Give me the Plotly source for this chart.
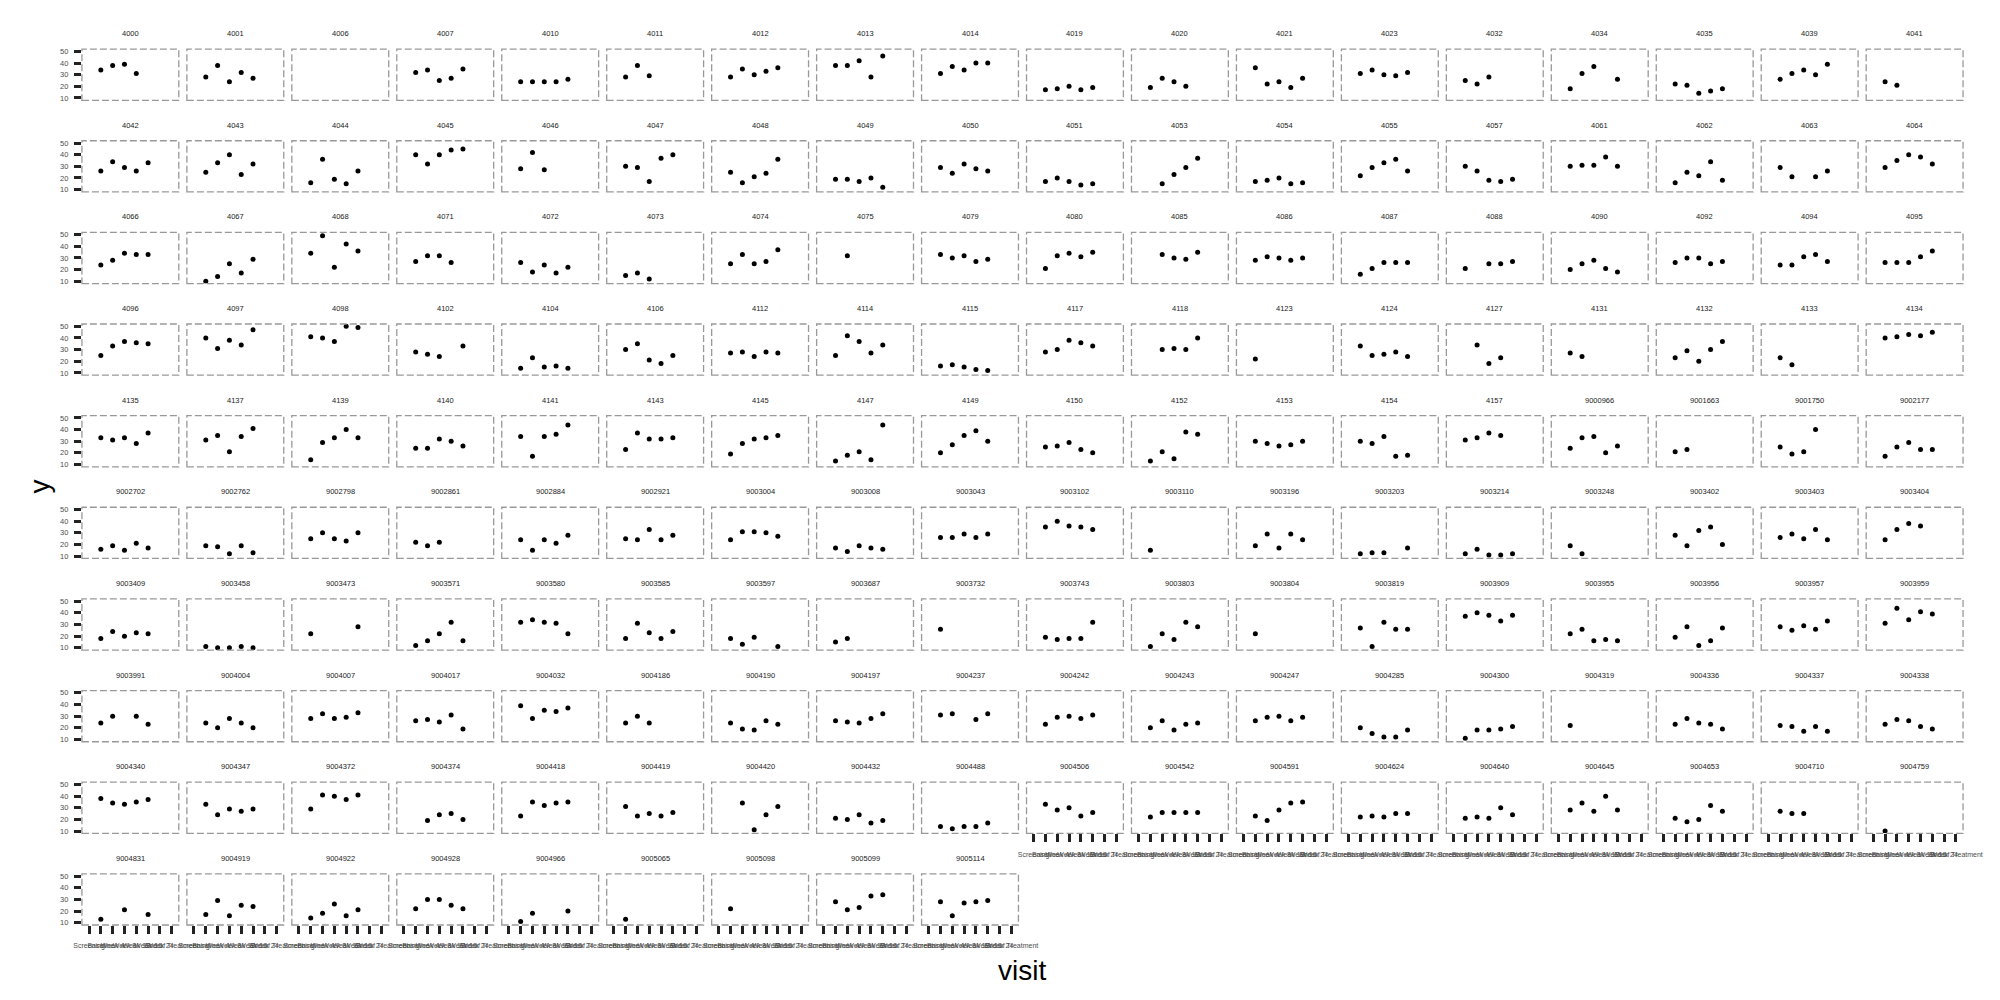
import plotly.graph_objects as go

visits = ["Screening", "Baseline", "Week 4", "Week 8", "Week 12", "Week 16", "Week 24", "End of Treatment"]
y_ticks = [10, 20, 30, 40, 50]

subjects = [
    "4000", "4001", "4006", "4007", "4010", "4011", "4012", "4013", "4014", "4019", "4020", "4021", "4023", "4032", "4034", "4035", "4039", "4041",
    "4042", "4043", "4044", "4045", "4046", "4047", "4048", "4049", "4050", "4051", "4053", "4054", "4055", "4057", "4061", "4062", "4063", "4064",
    "4066", "4067", "4068", "4071", "4072", "4073", "4074", "4075", "4079", "4080", "4085", "4086", "4087", "4088", "4090", "4092", "4094", "4095",
    "4096", "4097", "4098", "4102", "4104", "4106", "4112", "4114", "4115", "4117", "4118", "4123", "4124", "4127", "4131", "4132", "4133", "4134",
    "4135", "4137", "4139", "4140", "4141", "4143", "4145", "4147", "4149", "4150", "4152", "4153", "4154", "4157", "9000966", "9001663", "9001750", "9002177",
    "9002702", "9002762", "9002798", "9002861", "9002884", "9002921", "9003004", "9003008", "9003043", "9003102", "9003110", "9003196", "9003203", "9003214", "9003248", "9003402", "9003403", "9003404",
    "9003409", "9003458", "9003473", "9003571", "9003580", "9003585", "9003597", "9003687", "9003732", "9003743", "9003803", "9003804", "9003819", "9003909", "9003955", "9003956", "9003957", "9003959",
    "9003991", "9004004", "9004007", "9004017", "9004032", "9004186", "9004190", "9004197", "9004237", "9004242", "9004243", "9004247", "9004285", "9004300", "9004319", "9004336", "9004337", "9004338",
    "9004340", "9004347", "9004372", "9004374", "9004418", "9004419", "9004420", "9004432", "9004488", "9004506", "9004542", "9004591", "9004624", "9004640", "9004645", "9004653", "9004710", "9004759",
    "9004831", "9004919", "9004922", "9004928", "9004966", "9005065", "9005098", "9005099", "9005114",
]

N = None
# values per subject, in visit order (None = no observation)
y_values = [
    [N,34,38,39,31], [N,28,38,24,32,27], [], [N,32,34,25,27,35], [N,24,24,24,24,26], [N,28,38,29], [N,28,35,30,33,36], [N,38,38,42,28,46], [N,31,37,34,40,40],
    [N,17,18,20,17,19], [N,19,27,24,20], [N,36,22,24,19,27], [N,31,34,30,29,32], [N,25,22,28], [N,18,31,37,N,26], [N,22,21,14,16,18], [N,26,31,34,30,39], [N,24,21],
    [N,26,34,29,26,33], [N,25,33,40,23,32], [N,16,36,19,15,26], [N,40,32,40,44,45], [N,28,42,27], [N,30,29,17,37,40], [N,25,16,21,24,36], [N,19,19,17,20,12], [N,29,24,32,28,26],
    [N,17,20,17,14,15], [N,N,15,23,29,37], [N,17,18,20,15,16], [N,22,29,33,36,26], [N,30,26,18,17,19], [N,30,31,31,38,30], [N,16,25,22,34,18], [N,29,21,N,21,26], [N,29,35,40,38,32],
    [N,24,28,34,33,33], [N,10,14,25,17,29], [N,34,49,22,42,36], [N,27,32,32,26], [N,26,18,24,17,22], [N,15,17,12], [N,25,33,25,27,37], [N,N,32], [N,33,30,32,27,29],
    [N,21,32,34,31,35], [N,N,33,30,29,35], [N,28,31,30,28,30], [N,16,21,26,26,26], [N,21,N,25,25,27], [N,20,25,28,21,18], [N,26,30,30,25,27], [N,24,24,31,33,27], [N,26,26,26,31,36],
    [N,25,33,37,36,35], [N,40,31,38,34,47], [N,41,40,37,50,49], [N,28,26,24,N,33], [N,14,23,15,16,14], [N,30,35,21,18,25], [N,27,28,24,28,27], [N,25,42,37,27,34], [N,16,17,15,13,12],
    [N,28,30,38,36,33], [N,N,30,31,30,40], [N,22], [N,33,25,26,28,24], [N,N,34,18,23], [N,27,24], [N,23,29,20,30,37], [N,23,17], [N,40,41,43,42,45],
    [N,33,31,33,28,37], [N,31,35,21,34,41], [N,14,29,33,40,33], [N,24,24,32,30,26], [N,34,17,34,36,44], [N,23,37,32,32,33], [N,19,28,32,33,35], [N,13,18,21,14,44], [N,20,27,35,39,30],
    [N,25,26,29,23,20], [N,13,21,15,38,36], [N,30,28,26,27,30], [N,30,28,34,17,18], [N,31,33,37,35], [N,24,33,34,20,26], [N,21,23], [N,25,19,21,40], [N,17,25,29,23,23],
    [N,16,19,15,21,17], [N,19,18,12,19,13], [N,25,30,25,23,30], [N,22,19,22], [N,24,15,24,21,28], [N,25,24,33,24,28], [N,24,31,31,30,27], [N,17,14,19,17,16], [N,26,26,29,26,29],
    [N,35,40,36,35,33], [N,15], [N,19,29,17,29,24], [N,12,13,13,N,17], [N,12,16,11,11,12], [N,19,12], [N,28,19,32,35,20], [N,26,29,25,33,24], [N,24,33,38,36],
    [N,18,24,20,23,22], [N,11,10,10,11,10], [N,22,N,N,N,28], [N,12,16,22,32,16], [N,32,34,32,31,22], [N,18,31,23,18,24], [N,18,13,19,N,11], [N,15,18], [N,26],
    [N,19,17,18,18,32], [N,11,22,17,32,28], [N,22], [N,27,11,32,26,26], [N,37,40,38,33,38], [N,22,26,16,17,16], [N,19,28,12,16,27], [N,28,25,29,26,33], [N,31,44,34,41,39],
    [N,24,30,N,30,23], [N,24,20,28,24,20], [N,28,32,28,29,33], [N,26,27,25,31,19], [N,39,28,35,34,37], [N,24,30,24], [N,24,19,18,26,23], [N,26,25,24,28,32], [N,31,32,N,27,32],
    [N,23,29,30,28,31], [N,20,26,18,23,24], [N,26,29,30,26,29], [N,20,15,12,12,18], [N,11,18,18,19,21], [N,22], [N,23,28,24,23,19], [N,22,21,17,21,17], [N,23,27,26,21,19],
    [N,38,34,33,35,37], [N,33,24,29,27,29], [N,29,41,40,37,41], [N,N,19,24,25,20], [N,23,35,32,34,35], [N,31,23,25,23,26], [N,N,34,11,24,31], [N,21,20,24,17,19], [N,14,12,14,14,17],
    [N,33,28,30,23,26], [N,22,26,26,26,26], [N,23,19,28,34,35], [N,22,23,22,25,25], [N,21,22,21,30,24], [N,28,34,27,40,28], [N,21,18,20,32,27], [N,27,25,25], [N,10],
    [N,13,N,21,N,17], [N,17,29,16,25,24], [N,14,18,26,16,21], [N,22,30,30,25,22], [N,11,18,N,N,20], [N,13], [N,22], [N,28,21,23,33,34], [N,28,16,27,28,29],
]

W, H = 2000, 1000
NCOL = 18
n = len(subjects)
X0, PITCH_X, PW = 74.0, 106.5, 98.3
Y0, PITCH_Y, PH = 47.3, 92.0, 51.4

FONT = "Liberation Sans, Arial, Helvetica, sans-serif"

fig = go.Figure()
layout = dict(
    width=W, height=H, autosize=False,
    margin=dict(l=0, r=0, t=0, b=0),
    paper_bgcolor="white", plot_bgcolor="white",
    showlegend=False, font=dict(family=FONT),
)
shapes = []
annotations = []

for i, (subj, vals) in enumerate(zip(subjects, y_values)):
    r, c = divmod(i, NCOL)
    left = X0 + PITCH_X * c
    top = Y0 + PITCH_Y * r
    k = i + 1
    xa = "xaxis" if k == 1 else f"xaxis{k}"
    ya = "yaxis" if k == 1 else f"yaxis{k}"
    xr = "x" if k == 1 else f"x{k}"
    yr = "y" if k == 1 else f"y{k}"
    is_bottom = (i + NCOL) >= n
    is_left = c == 0

    full = list(vals) + [None] * (len(visits) - len(vals))
    xs = [v for v, y in zip(visits, full) if y is not None]
    ys = [y for y in full if y is not None]
    fig.add_trace(go.Scatter(
        x=xs, y=ys, mode="markers", xaxis=xr, yaxis=yr,
        marker=dict(color="black", size=5), hoverinfo="skip",
    ))

    layout[xa] = dict(
        domain=[left / W, (left + PW) / W], anchor=yr,
        type="category", categoryorder="array", categoryarray=visits,
        range=[-0.6, len(visits) - 0.4],
        showgrid=False, zeroline=False, showline=False,
        ticks="outside" if is_bottom else "", ticklen=8, tickwidth=2.5, tickcolor="#222222",
        showticklabels=is_bottom, tickangle=0,
        tickfont=dict(size=7, color="#4d4d4d", family=FONT),
        ticklabelstandoff=6, fixedrange=True,
    )
    layout[ya] = dict(
        domain=[1 - (top + PH) / H, 1 - top / H], anchor=xr,
        range=[8, 52], tickvals=y_ticks,
        showgrid=False, zeroline=False, showline=False,
        ticks="outside" if is_left else "", ticklen=7, tickwidth=2.5, tickcolor="#222222",
        showticklabels=is_left,
        tickfont=dict(size=7.5, color="#4d4d4d", family=FONT),
        ticklabelstandoff=4, fixedrange=True,
    )
    shapes.append(dict(
        type="rect", xref="paper", yref="paper",
        x0=left / W, x1=(left + PW) / W, y0=1 - (top + PH) / H, y1=1 - top / H,
        line=dict(color="#999999", width=1.3, dash="7px,3px"), layer="above",
    ))
    annotations.append(dict(
        text=subj, xref="paper", yref="paper",
        x=(left + PW / 2) / W, y=1 - (top - 15.5) / H,
        xanchor="center", yanchor="middle", showarrow=False,
        font=dict(size=7.5, color="#1a1a1a", family=FONT),
    ))

annotations.append(dict(
    text="y", xref="paper", yref="paper", x=30 / W, y=1 - 487 / H,
    xanchor="center", yanchor="middle", showarrow=False, textangle=-90,
    font=dict(size=28, color="black", family=FONT),
))
annotations.append(dict(
    text="visit", xref="paper", yref="paper", x=1028 / W, y=1 - 972 / H,
    xanchor="center", yanchor="middle", showarrow=False,
    font=dict(size=28, color="black", family=FONT),
))

layout["shapes"] = shapes
layout["annotations"] = annotations
fig.update_layout(**layout)
fig.write_html("out.html")
